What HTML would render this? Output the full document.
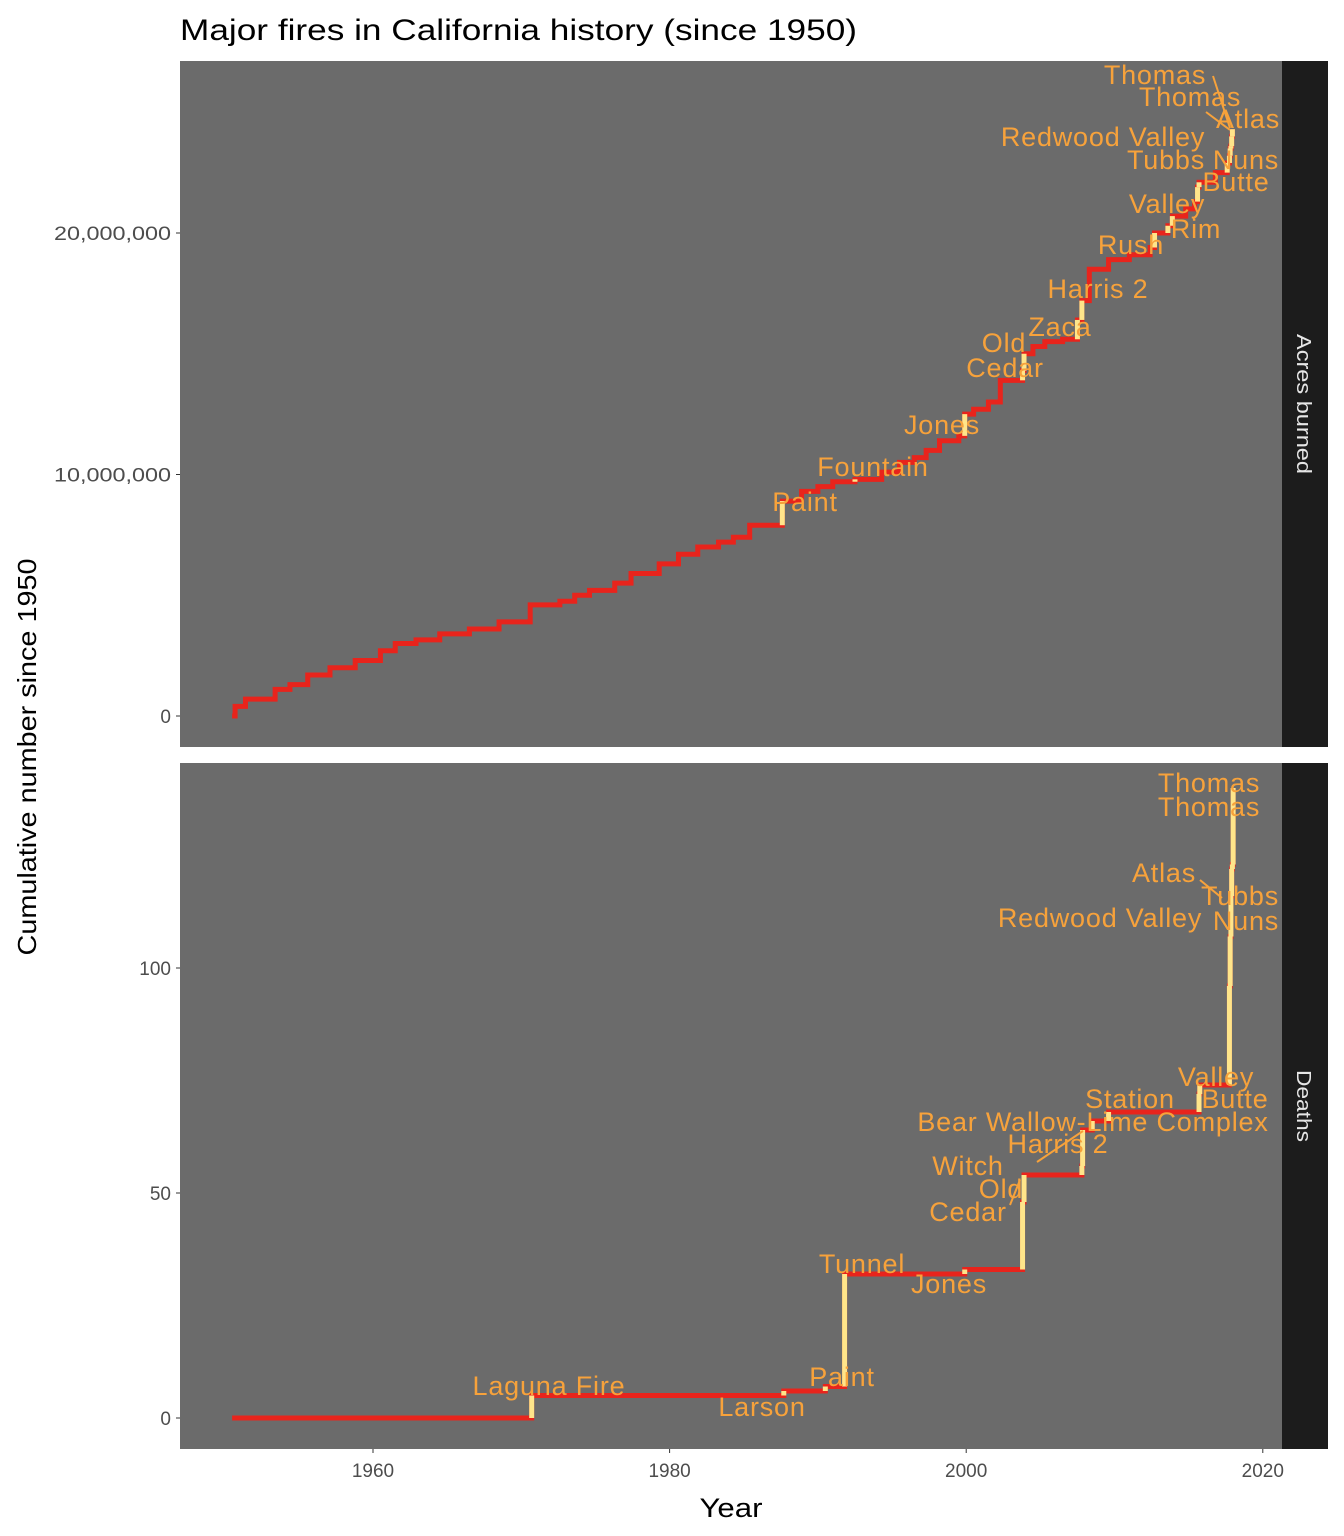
<!DOCTYPE html>
<html><head><meta charset="utf-8"><style>
html,body{margin:0;padding:0;background:#fff;}
svg{display:block;font-family:"Liberation Sans",Arial,sans-serif;}
</style></head><body>
<svg id="chart" width="1344" height="1536" viewBox="0 0 1344 1536" xmlns="http://www.w3.org/2000/svg">
<text x="180" y="40" font-size="30" textLength="677" lengthAdjust="spacingAndGlyphs" fill="#000">Major fires in California history (since 1950)</text>
<rect x="180" y="61" width="1102" height="686" fill="#6b6b6b"/>
<rect x="1282" y="61" width="46" height="686" fill="#1c1c1c"/>
<text transform="translate(1297,404) rotate(90)" font-size="20" textLength="140" lengthAdjust="spacingAndGlyphs" fill="#e6e6e6" text-anchor="middle">Acres burned</text>
<rect x="180" y="763" width="1102" height="686" fill="#6b6b6b"/>
<rect x="1282" y="763" width="46" height="686" fill="#1c1c1c"/>
<text transform="translate(1297,1106) rotate(90)" font-size="20" textLength="72" lengthAdjust="spacingAndGlyphs" fill="#e6e6e6" text-anchor="middle">Deaths</text>
<text transform="translate(36,757) rotate(-90)" font-size="26" textLength="397" lengthAdjust="spacingAndGlyphs" fill="#000" text-anchor="middle">Cumulative number since 1950</text>
<text x="731" y="1517" font-size="27" textLength="63" lengthAdjust="spacingAndGlyphs" fill="#000" text-anchor="middle">Year</text>
<g id="axes"></g>
<g id="marks"></g>
<g id="labels"></g>
</svg>
<script>
// ---- data ----
const xTicks = [1960, 1980, 2000, 2020];
const acresTicks = [0, 10, 20];
const acresTickLabels = ["0", "10,000,000", "20,000,000"];
const deathTicks = [0, 50, 100];
const deathTickLabels = ["0", "50", "100"];

// cumulative acres (millions) step series
const acresYears = [1950.5,1950.7,1951.4,1953.4,1954.4,1955.6,1957.1,1958.8,1960.5,1961.5,1962.9,1964.5,1966.5,1968.5,1970.6,1972.6,1973.6,1974.6,1976.3,1977.4,1979.3,1980.6,1981.9,1983.3,1984.3,1985.4,1987.6,1988.9,1990.0,1991.0,1992.5,1994.3,1995.5,1996.5,1997.3,1998.2,1999.5,1999.9,2000.5,2001.5,2002.3,2003.8,2003.9,2004.5,2005.3,2006.5,2007.5,2007.8,2008.3,2009.6,2011.0,2012.4,2012.7,2013.6,2013.9,2014.8,2015.4,2015.6,2015.7,2016.8,2017.6,2017.75,2017.8,2017.85,2017.9,2017.95];
const acresCum = [0,0.4,0.7,1.1,1.3,1.7,2.0,2.3,2.7,3.0,3.15,3.4,3.6,3.9,4.6,4.75,5.0,5.2,5.5,5.9,6.3,6.7,7.0,7.2,7.4,7.9,8.9,9.3,9.5,9.7,9.8,10.1,10.5,10.7,11.0,11.4,11.6,12.5,12.7,13.0,13.9,14.3,15.0,15.3,15.5,15.6,16.4,17.2,18.5,18.9,19.1,19.4,20.0,20.3,20.7,21.0,21.3,21.9,22.1,22.5,22.9,23.2,23.5,23.6,24.0,24.3];
const acresFires = ["","","","","","","","","","","","","","","","","","","","","","","","","","","Paint","","","","Fountain","","","","","","","Jones","","","","Cedar","Old","","","","Zaca","Harris 2","","","","","Rush","Rim","Valley","","","Valley","Butte","","Tubbs","Nuns","Redwood Valley","Atlas","Thomas","Thomas"];

const deathYears = [1950.5,1970.7,1987.7,1990.5,1991.8,1999.9,2003.8,2003.9,2007.8,2007.85,2008.5,2009.6,2015.7,2015.75,2017.75,2017.8,2017.85,2017.9,2017.95,2018.0];
const deathCum =   [0,5,6,7,32,33,48,54,56,64,66,68,72,74,96,107,116,122,123,140];
const deathFires = ["","Laguna Fire","Larson","Paint","Tunnel","Jones","Cedar","Old","Witch","Harris 2","Bear Wallow-Lime Complex","Station","Valley","Butte","Tubbs","Nuns","Redwood Valley","Atlas","Thomas","Thomas"];

// ---- scales ----
const xs = y => 373 + (y - 1960) * 14.83;
const ya = v => 716 - v * 24.15;
const yd = v => 1418 - v * 4.5;
const NS = "http://www.w3.org/2000/svg";
function mk(tag, attrs, parent){const e=document.createElementNS(NS,tag);for(const k in attrs)e.setAttribute(k,attrs[k]);parent.appendChild(e);return e;}
const axes=document.getElementById('axes'), marks=document.getElementById('marks'), labels=document.getElementById('labels');

// axes
acresTicks.forEach((t,i)=>{
  const y=ya(t);
  const l=mk('line',{x1:176,x2:180,y1:y,y2:y,stroke:'#333','stroke-width':1},axes);
  
  
  const tx=mk('text',{x:171,y:y+7,'font-size':19,fill:'#4d4d4d','text-anchor':'end'},axes);
  if(acresTickLabels[i].length>5){tx.setAttribute('textLength',117);tx.setAttribute('lengthAdjust','spacingAndGlyphs');}
  tx.textContent=acresTickLabels[i];
  
  
});
deathTicks.forEach((t,i)=>{
  const y=yd(t);
  const l=mk('line',{x1:176,x2:180,y1:y,y2:y,stroke:'#333','stroke-width':1},axes);
  
  
  const tx=mk('text',{x:171,y:y+7,'font-size':19,fill:'#4d4d4d','text-anchor':'end'},axes);
  tx.textContent=deathTickLabels[i];
  
  
});
xTicks.forEach(t=>{
  const x=xs(t);
  const l=mk('line',{x1:x,x2:x,y1:1449,y2:1453,stroke:'#333','stroke-width':1},axes);
  
  
  const tx=mk('text',{x:x,y:1477,'font-size':19,fill:'#4d4d4d','text-anchor':'middle'},axes);
  tx.textContent=t;
  
  
});

function drawSeries(years, vals, fires, ys, name){
  let d='M'+xs(years[0])+','+ys(vals[0]);
  for(let i=1;i<years.length;i++){
    d+=' H'+xs(years[i])+' V'+ys(vals[i]);
  }
  const p=mk('path',{d:d,fill:'none',stroke:'#e8241c','stroke-width':5,'stroke-linejoin':'miter'},marks);
  
  
  for(let i=1;i<years.length;i++){
    if(!fires[i]) continue;
    const x=xs(years[i]);
    const s=mk('line',{x1:x,x2:x,y1:ys(vals[i-1]),y2:ys(vals[i]),stroke:'#ffe58a','stroke-width':5},marks);
    
    
  }
}
drawSeries(acresYears, acresCum, acresFires, ya, 'acres');
drawSeries(deathYears, deathCum, deathFires, yd, 'deaths');

// labels (pixel placement of repelled text labels)
const labelSpecs = [
 ["Paint",805,511],["Fountain",873,476],["Jones",942,434],["Cedar",1005,377],["Old",1004,352],["Zaca",1060,336],["Harris 2",1098,298],["Rush",1131,254],["Valley",1167,213],["Rim",1196,238],["Butte",1236,191],["Tubbs",1166,169],["Nuns",1246,169],["Redwood Valley",1103,146],["Atlas",1248,128],["Thomas",1190,106],["Thomas",1155,84],
 ["Laguna Fire",549,1395],["Larson",762,1416],["Paint",842,1386],["Tunnel",862,1273],["Jones",949,1293],["Cedar",968,1221],["Old",1001,1198],["Witch",968,1175],["Harris 2",1058,1153],["Bear Wallow-Lime Complex",1093,1131],["Station",1130,1108],["Valley",1216,1086],["Butte",1235,1108],["Redwood Valley",1100,927],["Nuns",1246,930],["Tubbs",1240,905],["Atlas",1164,882],["Thomas",1209,816],["Thomas",1209,792]
];
const leaders = [[1213,76,1230,128],[1206,112,1230,130],[1037,1162,1083,1131],[1200,880,1222,898],[1010,1205,1020,1180]];
leaders.forEach(l=>{
  const e=mk('line',{x1:l[0],y1:l[1],x2:l[2],y2:l[3],stroke:'#f7a23b','stroke-width':2},labels);
  
  
});
labelSpecs.forEach(s=>{
  const t=mk('text',{x:s[1],y:s[2],'font-size':27,'letter-spacing':'0.8',fill:'#f7a23b','text-anchor':'middle'},labels);
  t.textContent=s[0];
  
  
});
</script>
</body></html>
